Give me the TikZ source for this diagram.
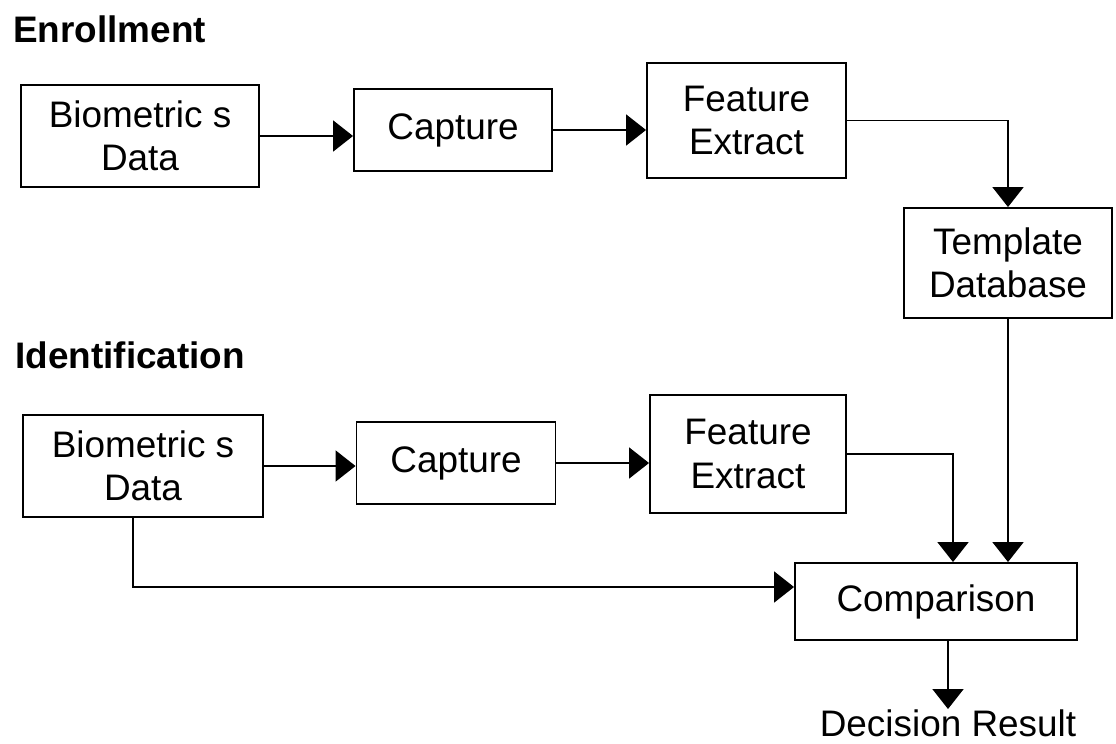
\documentclass[tikz,border=0pt]{standalone}
\usepackage{fontspec}
\setmainfont{Liberation Sans}
\usetikzlibrary{arrows.meta, calc}

\begin{document}
\begin{tikzpicture}[
        box/.style={draw, line width=1.1pt, align=center, inner sep=0pt, font=\fontsize{21}{24.5}\selectfont},
        arr/.style={line width=1.1pt, -{Triangle[length=0.40cm, width=0.62cm]}},
        heading/.style={anchor=base west, inner sep=0pt, font=\fontsize{21}{24.5}\selectfont\bfseries}
    ]
        \useasboundingbox (0, 0) rectangle (22.32, -14.86);

        % enrollment row
        \node[heading] (enrol) at (0.26, -0.84) {Enrollment};
        \node[box, minimum width=4.76cm, minimum height=2.04cm] (bioE) at (2.80, -2.72) {Biometric s\\Data};
        \node[box, minimum width=3.96cm, minimum height=1.64cm] (capE) at (9.06, -2.60) {Capture};
        \node[box, minimum width=3.98cm, minimum height=2.30cm] (featE) at (14.93, -2.41) {Feature\\Extract};
        \node[box, minimum width=4.16cm, minimum height=2.20cm] (tmpl) at (20.16, -5.26) {Template\\Database};

        \draw[arr] (bioE.east) -- (bioE.east -| capE.west);
        \draw[arr] (capE.east) -- (capE.east -| featE.west);
        \draw[arr] (featE.east) -| (tmpl.north);

        % identification row
        \node[heading] (ident) at (0.30, -7.36) {Identification};
        \node[box, minimum width=4.80cm, minimum height=2.04cm] (bioI) at (2.86, -9.32) {Biometric s\\Data};
        \node[box, minimum width=3.98cm, minimum height=1.64cm] (capI) at (9.12, -9.26) {Capture};
        \node[box, minimum width=3.92cm, minimum height=2.36cm] (featI) at (14.96, -9.08) {Feature\\Extract};
        \node[box, minimum width=5.64cm, minimum height=1.54cm] (comp) at (18.72, -12.03) {Comparison};
        \node[anchor=north, inner sep=0pt, font=\fontsize{21}{24.5}\selectfont] (dec) at (18.96, -14.18) {Decision Result};

        \draw[arr] (bioI.east) -- (bioI.east -| capI.west);
        \draw[arr] (capI.east) -- (capI.east -| featI.west);
        \draw[arr] (featI.east) -| ([xshift=0.34cm]comp.north);
        \draw[arr] (tmpl.south) -- (tmpl.south |- comp.north);
        \draw[arr] ([xshift=-0.2cm]bioI.south) |- ([yshift=0.29cm]comp.west);
        \draw[arr] (comp.south -| dec.north) -- (dec.north);

    \end{tikzpicture}
\end{document}
